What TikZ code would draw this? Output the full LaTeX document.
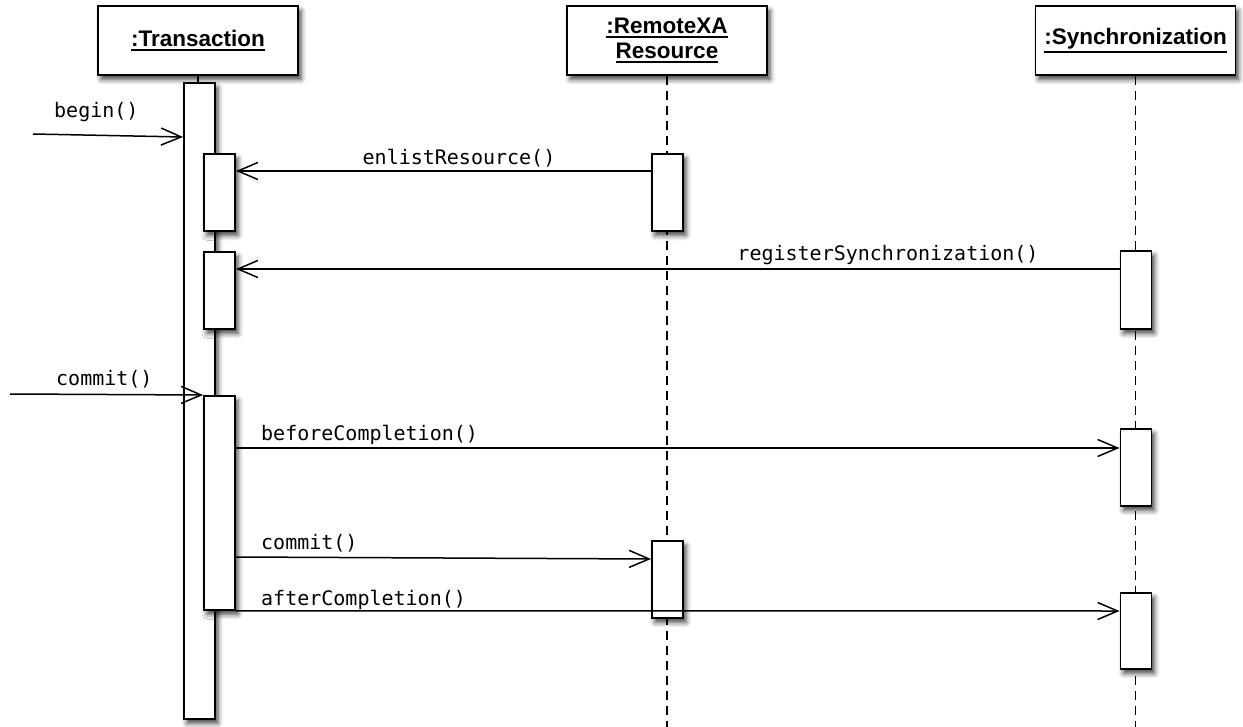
\documentclass[tikz,border=0pt]{standalone}
\usepackage{fontspec}
\setsansfont{Liberation Sans}
\newfontfamily\msgfont{DejaVu Sans Mono}
\usetikzlibrary{arrows.meta,shadows.blur}

% underlined header text with a heavier rule
\newcommand\ulbox[1]{\vtop{\hbox{#1}\kern2pt\hrule height 1.5pt}}

\begin{document}
\begin{tikzpicture}[x=1pt,y=-1pt,
  shade/.style={blur shadow={shadow xshift=3pt, shadow yshift=-4.5pt, shadow blur radius=5pt, shadow opacity=75}},
  obj/.style={draw, fill=white, line width=1.9pt, minimum width=200pt, minimum height=69pt,
    inner sep=0pt, align=center, font=\sffamily\bfseries\fontsize{22.5}{24}\selectfont, shade},
  act/.style={draw, fill=white, line width=1.9pt, minimum width=31pt, inner sep=0pt, anchor=north, shade},
  life/.style={dash pattern=on 9pt off 6pt, line width=1.6pt},
  msg/.style={line width=1.5pt, -{Straight Barb[length=20pt,width=17pt]}},
  lbl/.style={font=\msgfont\fontsize{20}{22}\selectfont, inner sep=0pt}
]
\useasboundingbox (0,0) rectangle (1243,727);

% object headers
\node[obj] (T) at (198,40.5) {\ulbox{:Transaction}};
\node[obj] (R) at (667,40.5) {\ulbox{:RemoteXA}\\[1pt]\ulbox{Resource}};
\node[obj] (S) at (1135.5,40.5) {\ulbox{:Synchronization}};

% lifelines
\coordinate (Rend) at (667,727);
\coordinate (Send) at (1135.5,727);
\draw[life] (R.south) -- (Rend);
\draw[life] (S.south) -- (Send);

% activation bars
\node[act, minimum height=636pt] (tmain) at (199.5,82) {};
\draw[line width=1.6pt] (T.south) -- (T.south |- tmain.north);
\node[act, minimum height=77pt]  (t1) at (219.5,153) {};
\node[act, minimum height=77pt]  (t2) at (219.5,251) {};
\node[act, minimum height=214pt] (t3) at (219.5,395) {};
\node[act, minimum height=77pt]  (r1) at (667.5,153) {};
\node[act, minimum height=77pt]  (r2) at (667.5,540) {};
\node[act, minimum height=78pt]  (s1) at (1136,250) {};
\node[act, minimum height=77pt]  (s2) at (1136,428) {};
\node[act, minimum height=76pt]  (s3) at (1136,592) {};

% incoming calls
\coordinate (bgn) at (33,134);
\coordinate (cin) at (10,394);
\draw[msg] (bgn) -- ([yshift=-55pt]tmain.north west);
\node[lbl, anchor=base west] (lbegin) at (54,118) {begin()};
\draw[msg] (cin) -- (t3.north west);
\node[lbl, anchor=base west] (lcommit) at (56,386) {commit()};

% messages between objects
\draw[msg] ([yshift=-18pt]r1.north west) -- ([yshift=-18pt]t1.north east);
\node[lbl, anchor=base] (lenlist) at (459,165) {enlistResource()};
\draw[msg] ([yshift=-19pt]s1.north west) -- ([yshift=-18pt]t2.north east);
\node[lbl, anchor=base] (lreg) at (888,261) {registerSynchronization()};
\draw[msg] ([yshift=-53pt]t3.north east) -- ([yshift=-20pt]s2.north west);
\node[lbl, anchor=base west] (lbefore) at (261,440) {beforeCompletion()};
\draw[msg] ([yshift=-162pt]t3.north east) -- ([yshift=-19pt]r2.north west);
\node[lbl, anchor=base west] (lcommit2) at (261,549) {commit()};
\draw[msg] (t3.south east) -- ([yshift=-19pt]s3.north west);
\node[lbl, anchor=base west] (lafter) at (261,605) {afterCompletion()};
\end{tikzpicture}
\end{document}
